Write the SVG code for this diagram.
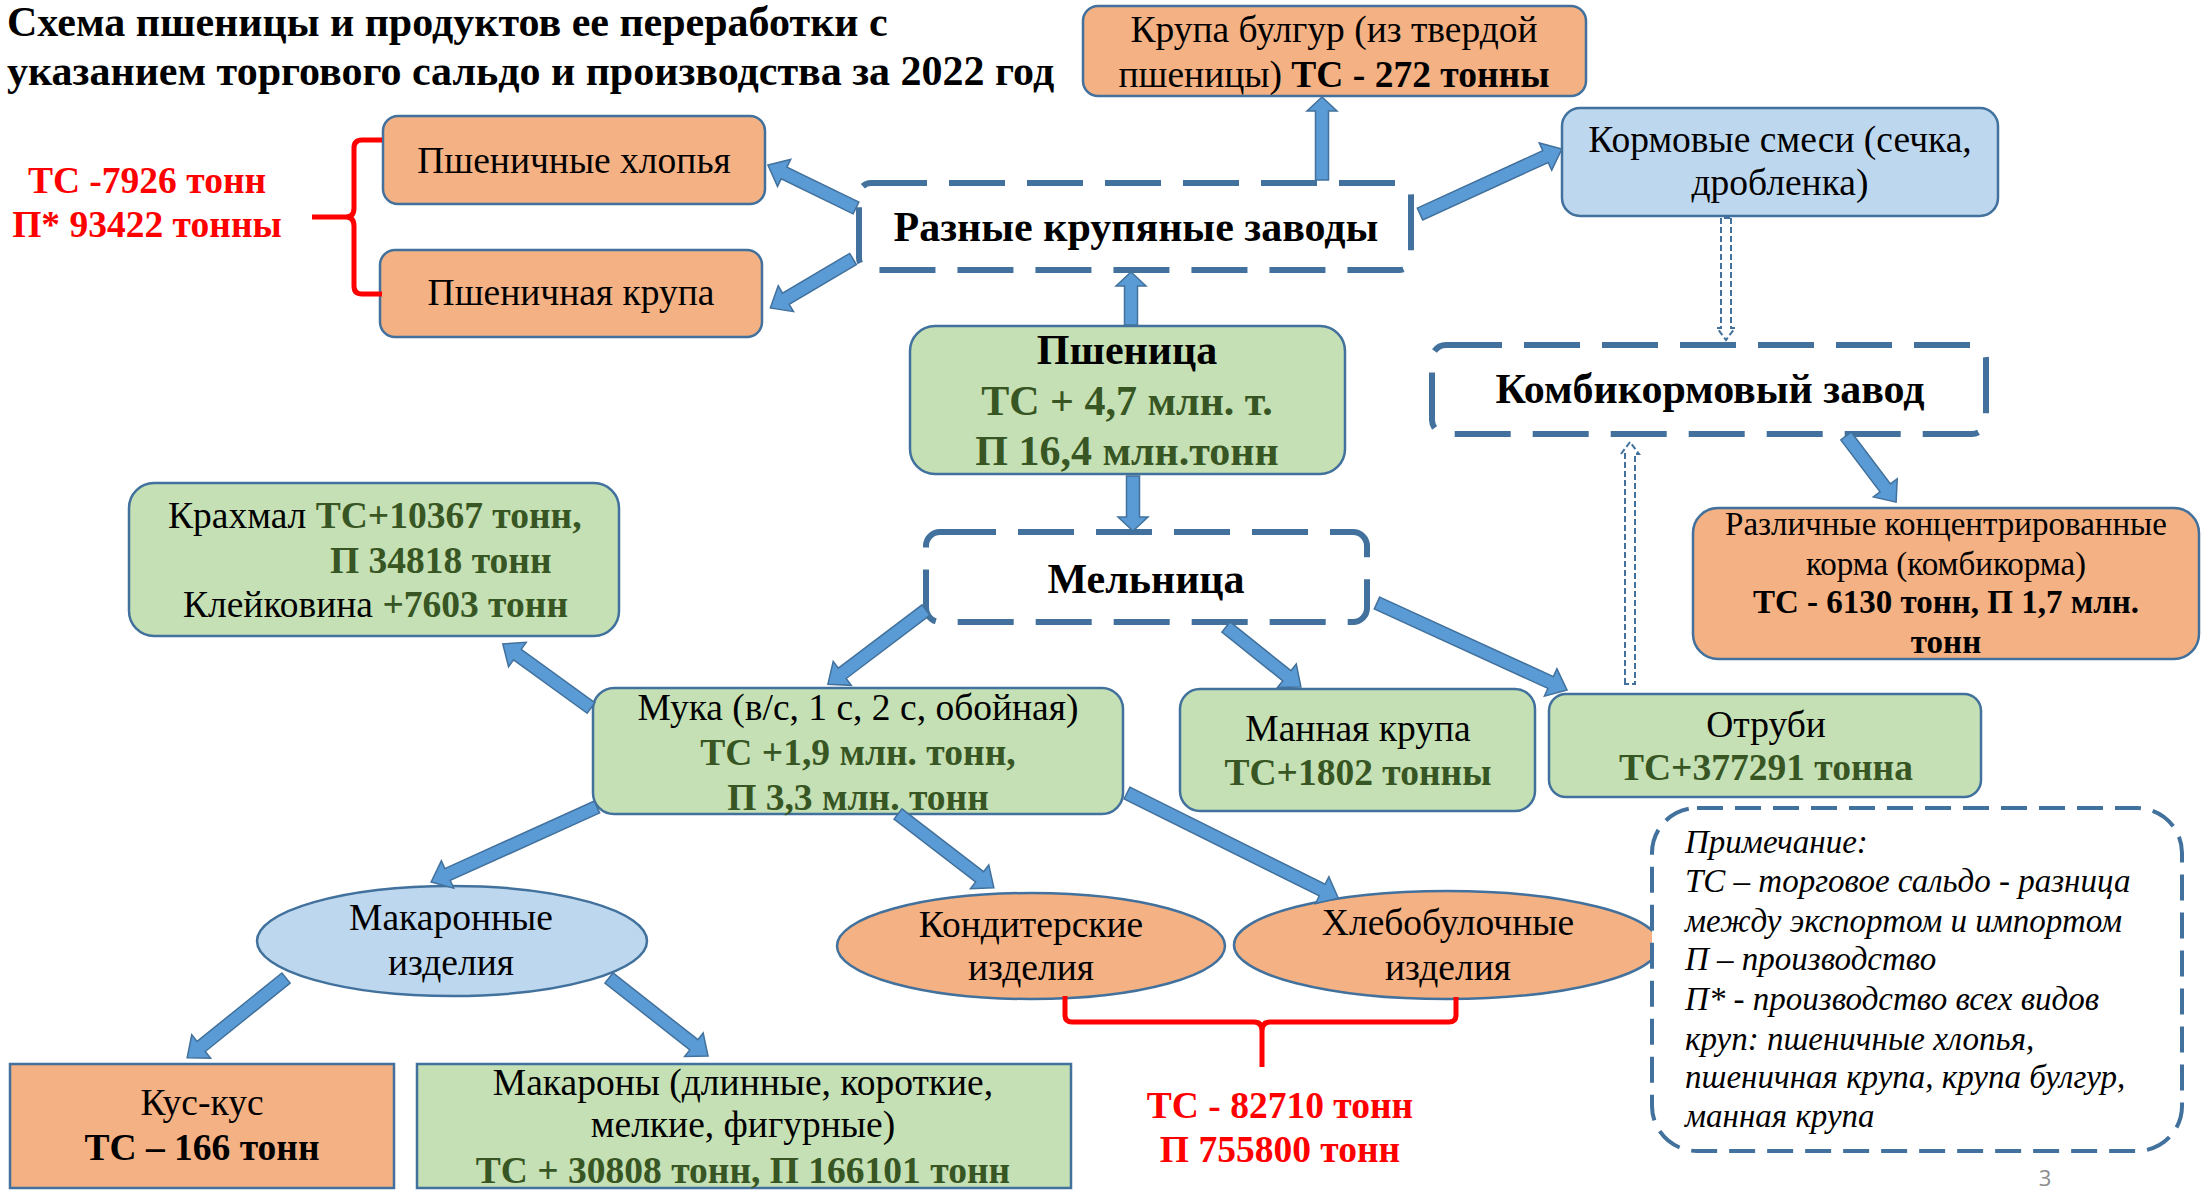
<svg xmlns="http://www.w3.org/2000/svg" width="2201" height="1192" viewBox="0 0 2201 1192">
<style>
text{font-family:"Liberation Serif","Times New Roman",serif;fill:#000}
.c{text-anchor:middle}
.s34{font-size:37.5px}
.s32{font-size:33px}
.s36{font-size:42px}
.s37{font-size:37.5px}
.s40{font-size:42px}
.s30{font-size:33px}
.b{font-weight:bold}
.i{font-style:italic}
.g{fill:#375623;font-weight:bold}
.red{fill:#FF0000;font-weight:bold}
.box{stroke:#41719C;stroke-width:2.5}
.or{fill:#F4B183}
.gr{fill:#C5E0B4}
.bl{fill:#BDD7EE}
.dash{fill:#fff;stroke:#41719C;stroke-width:6;stroke-dasharray:56 22}
.note{fill:#fff;stroke:#41719C;stroke-width:4;stroke-dasharray:26 12}
.arr{fill:#5B9BD5;stroke:#41719C;stroke-width:1.5}
.darr{fill:#fff;stroke:#41719C;stroke-width:2;stroke-dasharray:6 3}
.brace{fill:none;stroke:#FF0000;stroke-width:5}
</style>
<rect width="2201" height="1192" fill="#fff"/>

<g id="title">
<text class="b s40" x="7" y="36">Схема пшеницы и продуктов ее переработки с</text>
<text class="b s40" x="7" y="85">указанием торгового сальдо и производства за 2022 год</text>
</g>

<g id="bulgur">
<rect class="box or" x="1083" y="6" width="503" height="90" rx="15"/>
<text class="s34 c" x="1334" y="42">Крупа булгур (из твердой</text>
<text class="s34 c" x="1334" y="87">пшеницы) <tspan class="b">ТС - 272 тонны</tspan></text>
</g>

<g id="hlopya">
<rect class="box or" x="383" y="116" width="382" height="88" rx="15"/>
<text class="s34 c" x="574" y="173">Пшеничные хлопья</text>
</g>

<g id="krupa">
<rect class="box or" x="380" y="250" width="382" height="87" rx="15"/>
<text class="s34 c" x="571" y="305">Пшеничная крупа</text>
</g>

<g id="brace-left">
<path class="brace" d="M382,140 H362 Q354,140 354,148 V208 Q354,217 346,217 H312 M346,217 Q354,217 354,226 V286 Q354,294 362,294 H382"/>
<text class="red s37 c" x="147" y="193">ТС -7926 тонн</text>
<text class="red s37 c" x="147" y="237">П* 93422 тонны</text>
</g>

<g id="raznye">
<rect class="dash" x="859" y="183" width="552" height="87" rx="12"/>
<text class="b s36 c" x="1136" y="241">Разные крупяные заводы</text>
</g>

<g id="kormovye">
<rect class="box bl" x="1562" y="108" width="436" height="108" rx="18"/>
<text class="s34 c" x="1780" y="152">Кормовые смеси (сечка,</text>
<text class="s34 c" x="1780" y="195">дробленка)</text>
</g>

<g id="pshenitsa">
<rect class="box gr" x="910" y="326" width="435" height="148" rx="25"/>
<text class="b s40 c" x="1127" y="364">Пшеница</text>
<text class="g s40 c" x="1127" y="415">ТС + 4,7 млн. т.</text>
<text class="g s40 c" x="1127" y="465">П 16,4 млн.тонн</text>
</g>

<g id="kombikorm">
<rect class="dash" x="1432" y="345" width="554" height="89" rx="14"/>
<text class="b s36 c" x="1710" y="403">Комбикормовый завод</text>
</g>

<g id="razlichnye">
<rect class="box or" x="1693" y="508" width="506" height="151" rx="25"/>
<text class="s32 c" x="1946" y="535">Различные концентрированные</text>
<text class="s32 c" x="1946" y="575">корма (комбикорма)</text>
<text class="b s32 c" x="1946" y="613">ТС - 6130 тонн, П 1,7 млн.</text>
<text class="b s32 c" x="1946" y="653">тонн</text>
</g>

<g id="melnitsa">
<rect class="dash" x="926" y="532" width="441" height="90" rx="14"/>
<text class="b s36 c" x="1146" y="593">Мельница</text>
</g>

<g id="krahmal">
<rect class="box gr" x="129" y="483" width="490" height="153" rx="25"/>
<text class="s34" x="168" y="528">Крахмал <tspan class="g">ТС+10367 тонн,</tspan></text>
<text class="s34 g" x="330" y="573">П 34818 тонн</text>
<text class="s34" x="183" y="617">Клейковина <tspan class="g">+7603 тонн</tspan></text>
</g>

<g id="muka">
<rect class="box gr" x="593" y="688" width="530" height="126" rx="21"/>
<text class="s34 c" x="858" y="720">Мука (в/с, 1 с, 2 с, обойная)</text>
<text class="s34 g c" x="858" y="765">ТС +1,9 млн. тонн,</text>
<text class="s34 g c" x="858" y="810">П 3,3 млн. тонн</text>
</g>

<g id="mannaya">
<rect class="box gr" x="1180" y="689" width="355" height="122" rx="20"/>
<text class="s34 c" x="1358" y="741">Манная крупа</text>
<text class="s34 g c" x="1358" y="785">ТС+1802 тонны</text>
</g>

<g id="otrubi">
<rect class="box gr" x="1549" y="694" width="432" height="103" rx="17"/>
<text class="s34 c" x="1766" y="737">Отруби</text>
<text class="s34 g c" x="1766" y="780">ТС+377291 тонна</text>
</g>

<g id="makaronnye">
<ellipse class="box bl" cx="452" cy="941" rx="195" ry="55"/>
<text class="s34 c" x="451" y="930">Макаронные</text>
<text class="s34 c" x="451" y="975">изделия</text>
</g>

<g id="konditerskie">
<ellipse class="box or" cx="1031" cy="946" rx="194" ry="53"/>
<text class="s34 c" x="1031" y="937">Кондитерские</text>
<text class="s34 c" x="1031" y="980">изделия</text>
</g>

<g id="hlebobulochnye">
<ellipse class="box or" cx="1447" cy="945" rx="213" ry="54"/>
<text class="s34 c" x="1448" y="935">Хлебобулочные</text>
<text class="s34 c" x="1448" y="980">изделия</text>
</g>

<g id="brace-bottom">
<path class="brace" d="M1065,996 V1015 Q1065,1022 1072,1022 H1254 Q1262,1022 1262,1031 V1067 M1262,1031 Q1262,1022 1270,1022 H1449 Q1456,1022 1456,1015 V997"/>
<text class="red s37 c" x="1280" y="1118">ТС - 82710 тонн</text>
<text class="red s37 c" x="1280" y="1162">П 755800 тонн</text>
</g>

<g id="kuskus">
<rect class="box or" x="10" y="1064" width="384" height="124"/>
<text class="s34 c" x="202" y="1115">Кус-кус</text>
<text class="b s34 c" x="202" y="1160">ТС – 166 тонн</text>
</g>

<g id="makarony">
<rect class="box gr" x="417" y="1064" width="654" height="124"/>
<text class="s34 c" x="743" y="1095">Макароны (длинные, короткие,</text>
<text class="s34 c" x="743" y="1137">мелкие, фигурные)</text>
<text class="s34 g c" x="743" y="1183">ТС + 30808 тонн, П 166101 тонн</text>
</g>

<g id="note">
<rect class="note" x="1652" y="808" width="530" height="343" rx="45"/>
<text class="i s30" x="1685" y="853">Примечание:</text>
<text class="i s30" x="1685" y="892">ТС – торговое сальдо - разница</text>
<text class="i s30" x="1685" y="932">между экспортом и импортом</text>
<text class="i s30" x="1685" y="970">П – производство</text>
<text class="i s30" x="1685" y="1010">П* - производство всех видов</text>
<text class="i s30" x="1685" y="1050">круп: пшеничные хлопья,</text>
<text class="i s30" x="1685" y="1088">пшеничная крупа, крупа булгур,</text>
<text class="i s30" x="1685" y="1127">манная крупа</text>
</g>

<g id="page">
<text x="2045" y="1186" style="font-family:'Open Sans','Liberation Sans',sans-serif;font-size:22px;fill:#8C8C8C" class="c">3</text>
</g>

<g id="connectors">
<polygon class="arr" transform="translate(856,208) rotate(206)" points="0,-6.5 80,-6.5 80,-15 98,0 80,15 80,6.5 0,6.5"/>
<polygon class="arr" transform="translate(853,259) rotate(149.4)" points="0,-6.5 78,-6.5 78,-15 96,0 78,15 78,6.5 0,6.5"/>
<polygon class="arr" transform="translate(1322,180) rotate(-90)" points="0,-6.5 69,-6.5 69,-15 83,0 69,15 69,6.5 0,6.5"/>
<polygon class="arr" transform="translate(1420,214) rotate(-24.6)" points="0,-6.5 138,-6.5 138,-15 156,0 138,15 138,6.5 0,6.5"/>
<polygon class="arr" transform="translate(1131,325) rotate(-90)" points="0,-6.5 39,-6.5 39,-15 53,0 39,15 39,6.5 0,6.5"/>
<polygon class="arr" transform="translate(1133,476) rotate(90)" points="0,-6.5 41,-6.5 41,-15 55,0 41,15 41,6.5 0,6.5"/>
<polygon class="arr" transform="translate(926,610) rotate(142.9)" points="0,-6.5 105,-6.5 105,-15 123,0 105,15 105,6.5 0,6.5"/>
<polygon class="arr" transform="translate(1226,627) rotate(38.7)" points="0,-6.5 78,-6.5 78,-15 96,0 78,15 78,6.5 0,6.5"/>
<polygon class="arr" transform="translate(1377,603) rotate(24.6)" points="0,-6.5 191,-6.5 191,-15 209,0 191,15 191,6.5 0,6.5"/>
<polygon class="arr" transform="translate(591,708) rotate(216)" points="0,-6.5 91,-6.5 91,-15 109,0 91,15 91,6.5 0,6.5"/>
<polygon class="arr" transform="translate(597,807) rotate(155.7)" points="0,-6.5 164,-6.5 164,-15 182,0 164,15 164,6.5 0,6.5"/>
<polygon class="arr" transform="translate(898,814) rotate(37.6)" points="0,-6.5 103,-6.5 103,-15 121,0 103,15 103,6.5 0,6.5"/>
<polygon class="arr" transform="translate(1127,793) rotate(26.45)" points="0,-6.5 218,-6.5 218,-15 236,0 218,15 218,6.5 0,6.5"/>
<polygon class="arr" transform="translate(286,978) rotate(141.1)" points="0,-6.5 109,-6.5 109,-15 127,0 109,15 109,6.5 0,6.5"/>
<polygon class="arr" transform="translate(609,978) rotate(38.2)" points="0,-6.5 108,-6.5 108,-15 126,0 108,15 108,6.5 0,6.5"/>
<polygon class="arr" transform="translate(1846,436) rotate(52.85)" points="0,-6.5 65,-6.5 65,-15 83,0 65,15 65,6.5 0,6.5"/>
<polygon class="darr" transform="translate(1726,218) rotate(90)" points="0,-5 110,-5 110,-9 122,0 110,9 110,5 0,5"/>
<polygon class="darr" transform="translate(1630,684) rotate(-90)" points="0,-5 230,-5 230,-9 242,0 230,9 230,5 0,5"/>
</g>
</svg>
